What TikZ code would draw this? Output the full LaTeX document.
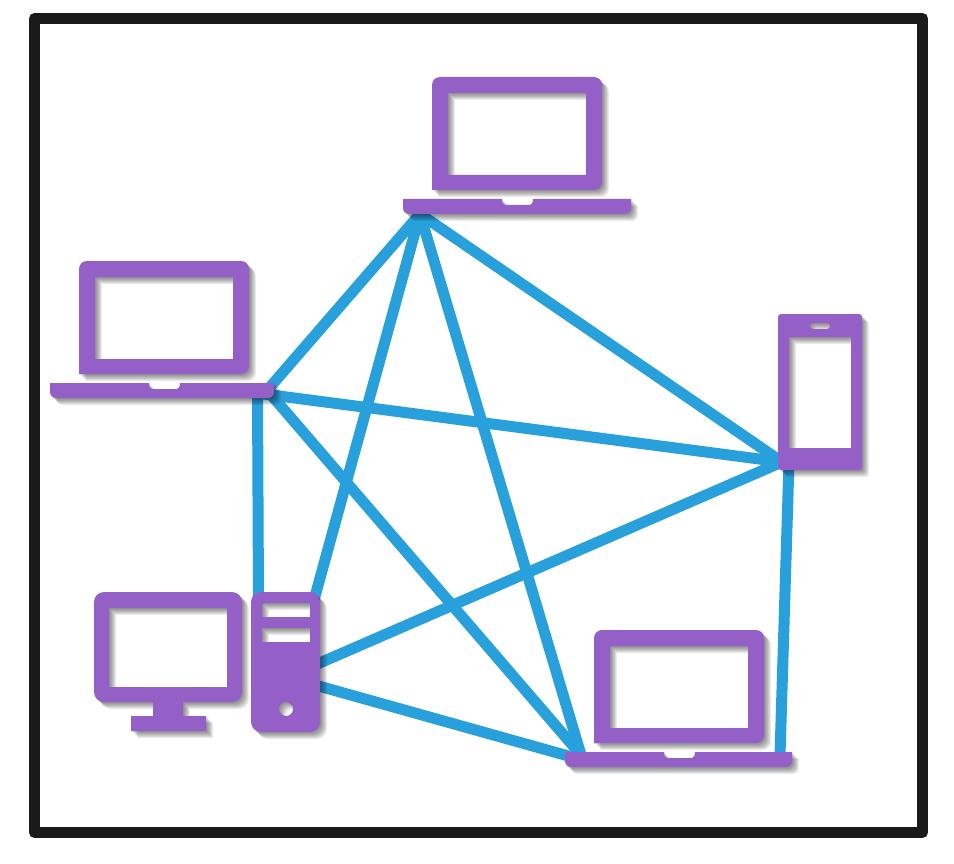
\documentclass[tikz,border=0pt]{standalone}
\definecolor{devpurple}{HTML}{9460C8}
\definecolor{linkblue}{HTML}{28A0DC}
\definecolor{framegray}{HTML}{1A1A1A}
\tikzset{
	devshade/.style={fill=black,fill opacity=.075,even odd rule},
	devfill/.style={fill=devpurple,even odd rule},
	netlink/.style={draw=linkblue,line width=11pt,line cap=round},
}
\newcommand{\softshape}[1]{%
	\foreach \sh in {1,2,3,4,5,6,7}{\path[devshade,shift={(\sh,\sh)}] #1;}
	\path[devfill] #1;
}
\begin{document}
\begin{tikzpicture}[x=1pt,y=-1pt,line join=round]
	\useasboundingbox (0,0) rectangle (954,864);
	\fill[white] (0,0) rectangle (954,864);
	\draw[draw=framegray,line width=11pt] (34.5,18.5) rectangle (922.5,832.5);
	% link ends
	\coordinate (topport) at (420,214);
	\coordinate (leftport) at (264,394);
	\coordinate (leftportd) at (267,390);
	\coordinate (leftportv) at (257.5,394);
	\coordinate (phoneport) at (782,462);
	\coordinate (phonefoot) at (789,462);
	\coordinate (towertopl) at (258.5,600);
	\coordinate (towertopr) at (314,600);
	\coordinate (towerup) at (315,665);
	\coordinate (towerdown) at (315,685);
	\coordinate (rightportl) at (581,755);
	\coordinate (rightportm) at (572,757);
	\coordinate (rightportr) at (780,755);
	\draw[netlink] (topport) -- (leftport);
	\draw[netlink] (topport) -- (towertopr);
	\draw[netlink] (topport) -- (rightportl);
	\draw[netlink] (topport) -- (phoneport);
	\draw[netlink] (leftportv) -- (towertopl);
	\draw[netlink] (leftport) -- (phoneport);
	\draw[netlink] (leftportd) -- (rightportl);
	\draw[netlink] (phoneport) -- (towerup);
	\draw[netlink] (phonefoot) -- (rightportr);
	\draw[netlink] (towerdown) -- (rightportm);
	% laptops
	\foreach \lx/\ly/\lb in {432/77/199,79/261/195,594/630/198}{
		\begin{scope}[shift={(\lx,\ly)}]
			\softshape{[rounded corners=8pt] (0,113) -- (0,0) -- (170,0) -- (170,113) [sharp corners] -- cycle (16,16) rectangle (154,98)}
			\softshape{(-29,122) -- (70,122) [rounded corners=2pt] -- (71,128) -- (100,128) [sharp corners] -- (101,122) -- (\lb,122) [rounded corners=6pt] -- (\lb,137) -- (-29,137) [sharp corners] -- cycle}
		\end{scope}
	}
	% phone
	\softshape{[rounded corners=3pt] (778,314) rectangle (862,470) [sharp corners] (789,337) rectangle (851,448) [rounded corners=3pt] (810,323) rectangle (830,329)}
	% monitor
	\softshape{[rounded corners=10pt] (94,592) rectangle (242,702) [sharp corners] (109,608) rectangle (227,687)}
	\softshape{(153,702) -- (183,702) -- (183,716) -- (206,716) -- (206,731) -- (131,731) -- (131,716) -- (153,716) -- cycle}
	% tower
	\softshape{[rounded corners=10pt] (251,592) rectangle (320,732) [sharp corners] (262,603) rectangle (310,617) (262,628) rectangle (310,642) (293,709) arc (0:360:7)}
\end{tikzpicture}
\end{document}
